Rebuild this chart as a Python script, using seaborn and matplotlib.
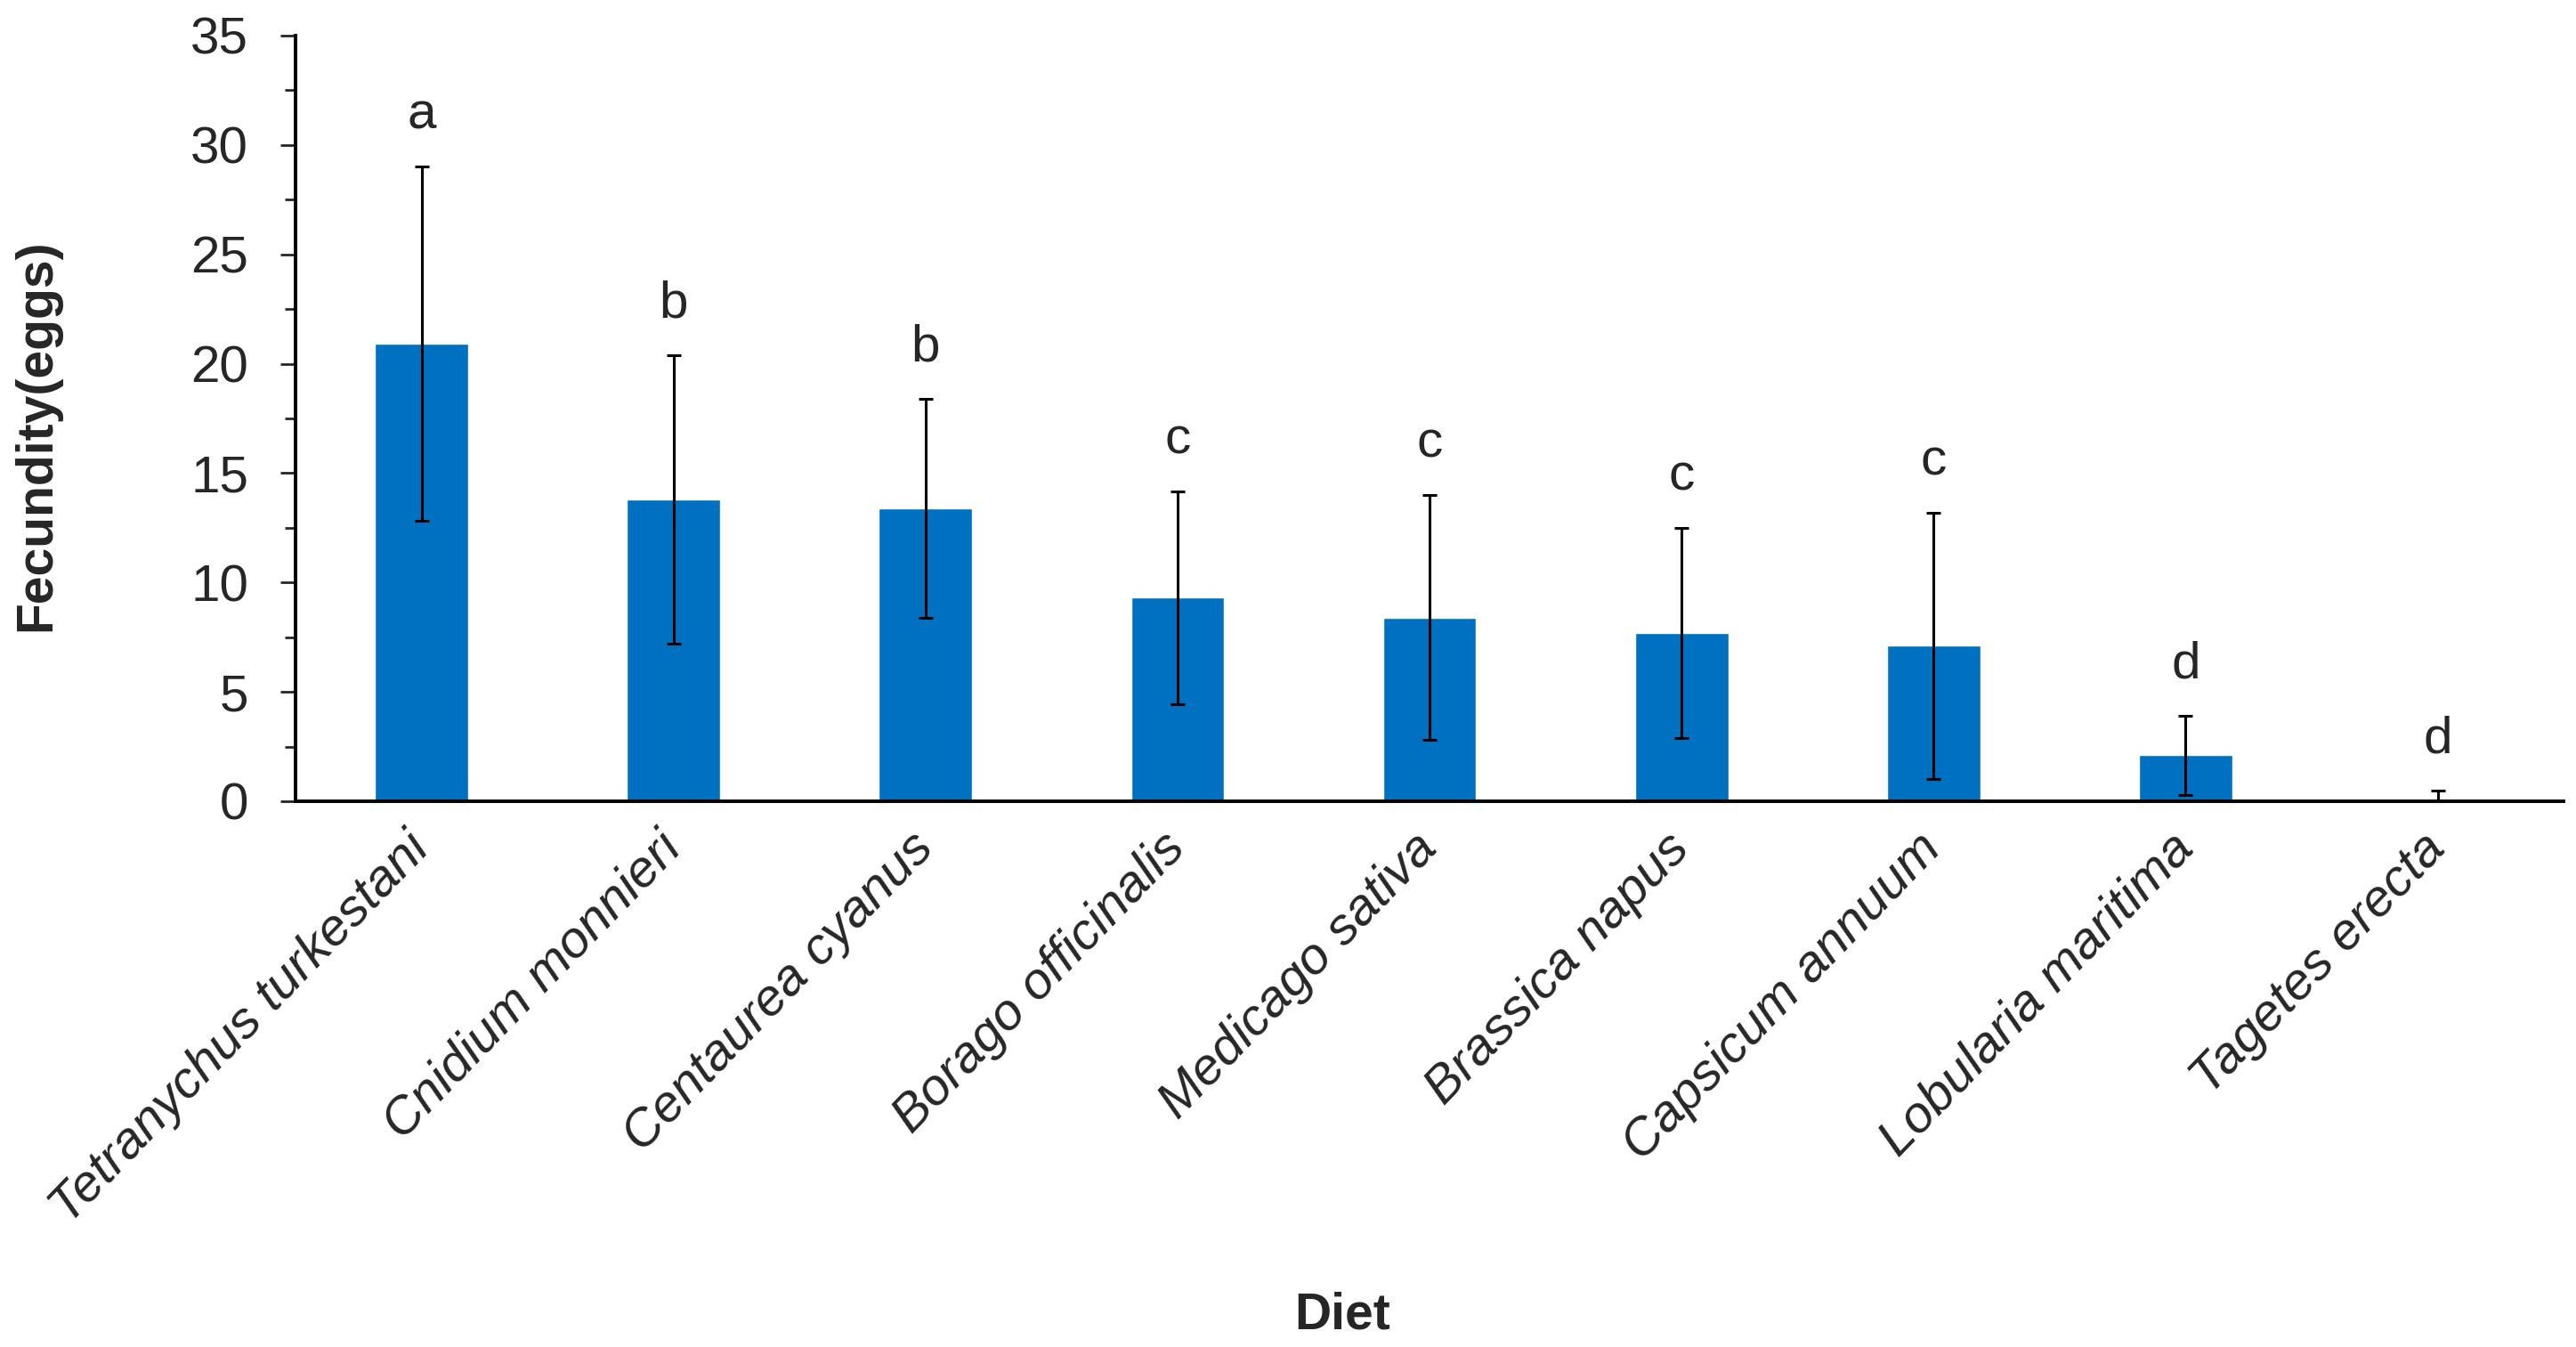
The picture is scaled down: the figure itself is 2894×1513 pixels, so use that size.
import numpy as np
import seaborn as sns
import matplotlib.pyplot as plt
from matplotlib.ticker import MultipleLocator

diets = ["Tetranychus turkestani", "Cnidium monnieri", "Centaurea cyanus",
         "Borago officinalis", "Medicago sativa", "Brassica napus",
         "Capsicum annuum", "Lobularia maritima", "Tagetes erecta"]
means = [20.9, 13.8, 13.4, 9.3, 8.4, 7.7, 7.1, 2.1, 0.0]
sds = [8.1, 6.6, 5.0, 4.85, 5.6, 4.8, 6.1, 1.8, 0.5]
groups = ["a", "b", "b", "c", "c", "c", "c", "d", "d"]

sns.set_style("ticks")
plt.rcParams['font.family'] = ['Liberation Sans', 'DejaVu Sans']

fig = plt.figure(figsize=(28.94, 15.13), dpi=100)
ax = fig.add_axes([0.1147, 0.4052, 0.8805, 0.5684])

sns.barplot(x=diets, y=means, color="#0070C0", width=0.37, errorbar=None,
            saturation=1, ax=ax)
xpos = ax.get_xticks()
ax.errorbar(xpos, means, yerr=sds, fmt="none", ecolor="black",
            elinewidth=2.2, capsize=5.5, capthick=2.2)

# significance letters above the error bars
for x, m, s, g in zip(xpos, means, sds, groups):
    ax.annotate(g, (x, m + s), xytext=(0, 22), textcoords="offset points",
                ha="center", va="bottom", fontsize=42)

ax.set_xlim(-0.5, len(diets) - 0.5)
ax.set_ylim(0, 35)
ax.yaxis.set_major_locator(MultipleLocator(5))
ax.yaxis.set_minor_locator(MultipleLocator(2.5))
ax.tick_params(axis="y", which="major", length=12, width=2, labelsize=42, pad=26)
ax.tick_params(axis="y", which="minor", length=9, width=2)
ax.tick_params(axis="x", length=0, pad=32)

sns.despine(ax=ax)
for sp in ["left", "bottom"]:
    ax.spines[sp].set_linewidth(2.8)
    ax.spines[sp].set_color("black")

ax.set_xticks(xpos)
ax.set_xticklabels(diets, rotation=46, ha="right", va="center",
                   rotation_mode="anchor", fontsize=42, fontstyle="italic")

ax.set_xlabel("Diet", fontsize=41, fontweight="bold")
ax.xaxis.set_label_coords(0.4615, -0.64)
ax.set_ylabel("Fecundity(eggs)", fontsize=41, fontweight="bold", va="center")
ax.yaxis.set_label_coords(-0.114, 0.478)

plt.savefig("out.png", dpi=100)
